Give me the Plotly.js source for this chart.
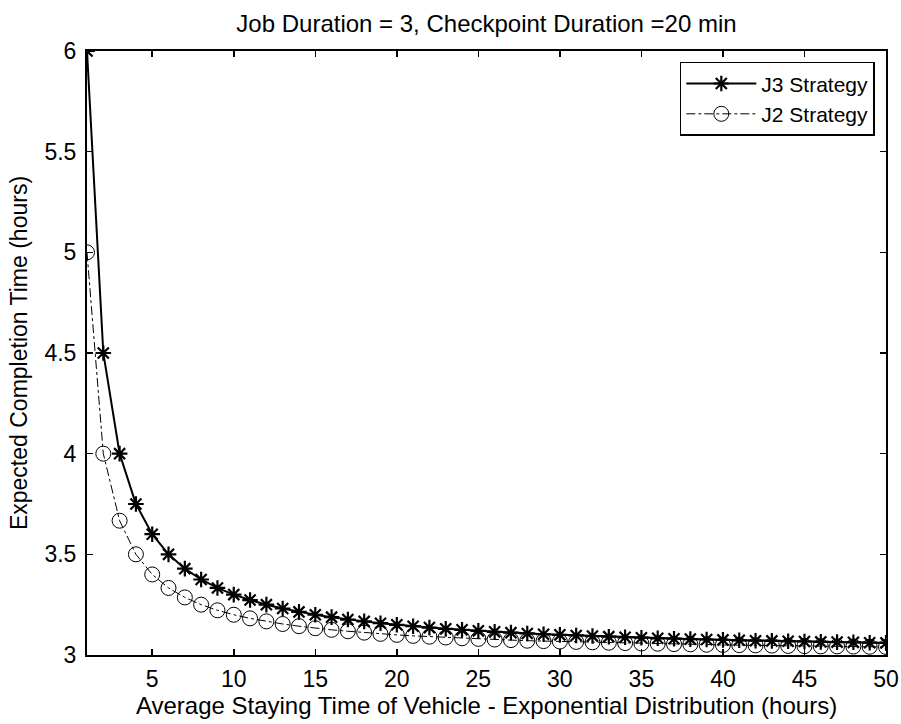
<!DOCTYPE html>
<html>
<head>
<meta charset="utf-8">
<script src="https://cdn.plot.ly/plotly-3.0.1.min.js"></script>
<style>html,body{margin:0;padding:0;background:#fff;}#chart{width:901px;height:724px;}</style>
</head>
<body>
<div id="chart"></div>
<script>
const xValues = [1,2,3,4,5,6,7,8,9,10,11,12,13,14,15,16,17,18,19,20,21,22,23,24,25,26,27,28,29,30,31,32,33,34,35,36,37,38,39,40,41,42,43,44,45,46,47,48,49,50];
const j3Values = [6,4.5,4,3.75,3.6,3.5,3.429,3.375,3.333,3.3,3.273,3.25,3.231,3.214,3.2,3.188,3.176,3.167,3.158,3.15,3.143,3.136,3.130,3.125,3.12,3.115,3.111,3.107,3.103,3.1,3.097,3.094,3.091,3.088,3.086,3.083,3.081,3.079,3.077,3.075,3.073,3.071,3.070,3.068,3.067,3.065,3.064,3.063,3.061,3.06];
const j2Values = [5,4,3.667,3.5,3.4,3.333,3.286,3.25,3.222,3.2,3.182,3.167,3.154,3.143,3.133,3.125,3.118,3.111,3.105,3.1,3.095,3.091,3.087,3.083,3.08,3.077,3.074,3.071,3.069,3.067,3.065,3.063,3.061,3.059,3.057,3.056,3.054,3.053,3.051,3.05,3.049,3.048,3.047,3.045,3.044,3.043,3.043,3.042,3.041,3.04];
const xTicks = [5,10,15,20,25,30,35,40,45,50];
const yTicks = [3,3.5,4,4.5,5,5.5,6];
const seriesNames = ['J3 Strategy','J2 Strategy'];
const titleText = 'Job Duration = 3, Checkpoint Duration =20 min';
const xTitle = 'Average Staying Time of Vehicle - Exponential Distribution (hours)';
const yTitle = 'Expected Completion Time (hours)';

const font = {family: 'Liberation Sans, Arial, sans-serif', color: '#000'};
const traces = [
  {x: xValues, y: j3Values, name: seriesNames[0], type: 'scatter', mode: 'lines+markers',
   line: {color: '#000', width: 2, dash: 'solid'},
   marker: {symbol: 'asterisk-open', size: 13, color: '#000', line: {color: '#000', width: 2.2}}},
  {x: xValues, y: j2Values, name: seriesNames[1], type: 'scatter', mode: 'lines+markers',
   line: {color: '#000', width: 1, dash: 'dashdot'},
   marker: {symbol: 'circle-open', size: 15, color: '#000', line: {color: '#000', width: 1}}}
];
const axisCommon = {showgrid: false, zeroline: false, showline: true, linecolor: '#000', linewidth: 2,
  mirror: 'ticks', ticks: 'inside', ticklen: 6, tickcolor: '#000', tickwidth: 1.5,
  tickfont: Object.assign({size: 23}, font), automargin: false};
const layout = {
  width: 901, height: 724,
  margin: {l: 87, r: 15, t: 51, b: 69},
  paper_bgcolor: '#fff', plot_bgcolor: '#fff',
  title: {text: titleText, font: Object.assign({size: 24}, font), xref: 'paper', x: 0.5, xanchor: 'center',
    yref: 'container', y: 0.967, yanchor: 'middle'},
  xaxis: Object.assign({}, axisCommon, {range: [1, 50], tickvals: xTicks, ticktext: xTicks.map(String),
    ticklabelstandoff: 2,
    title: {text: xTitle, font: Object.assign({size: 24}, font), standoff: 3}}),
  yaxis: Object.assign({}, axisCommon, {range: [3, 6], tickvals: yTicks, ticktext: yTicks.map(String),
    ticklabelstandoff: 4,
    title: {text: yTitle, font: Object.assign({size: 23}, font), standoff: 10}}),
  showlegend: true,
  legend: {x: 0.986, xanchor: 'right', y: 0.982, yanchor: 'top', bgcolor: '#fff', bordercolor: '#000', borderwidth: 1.5,
    font: Object.assign({size: 21}, font), traceorder: 'normal', itemwidth: 70, tracegroupgap: 0}
};
Plotly.newPlot('chart', traces, layout, {displayModeBar: false, staticPlot: true});
</script>
</body>
</html>
